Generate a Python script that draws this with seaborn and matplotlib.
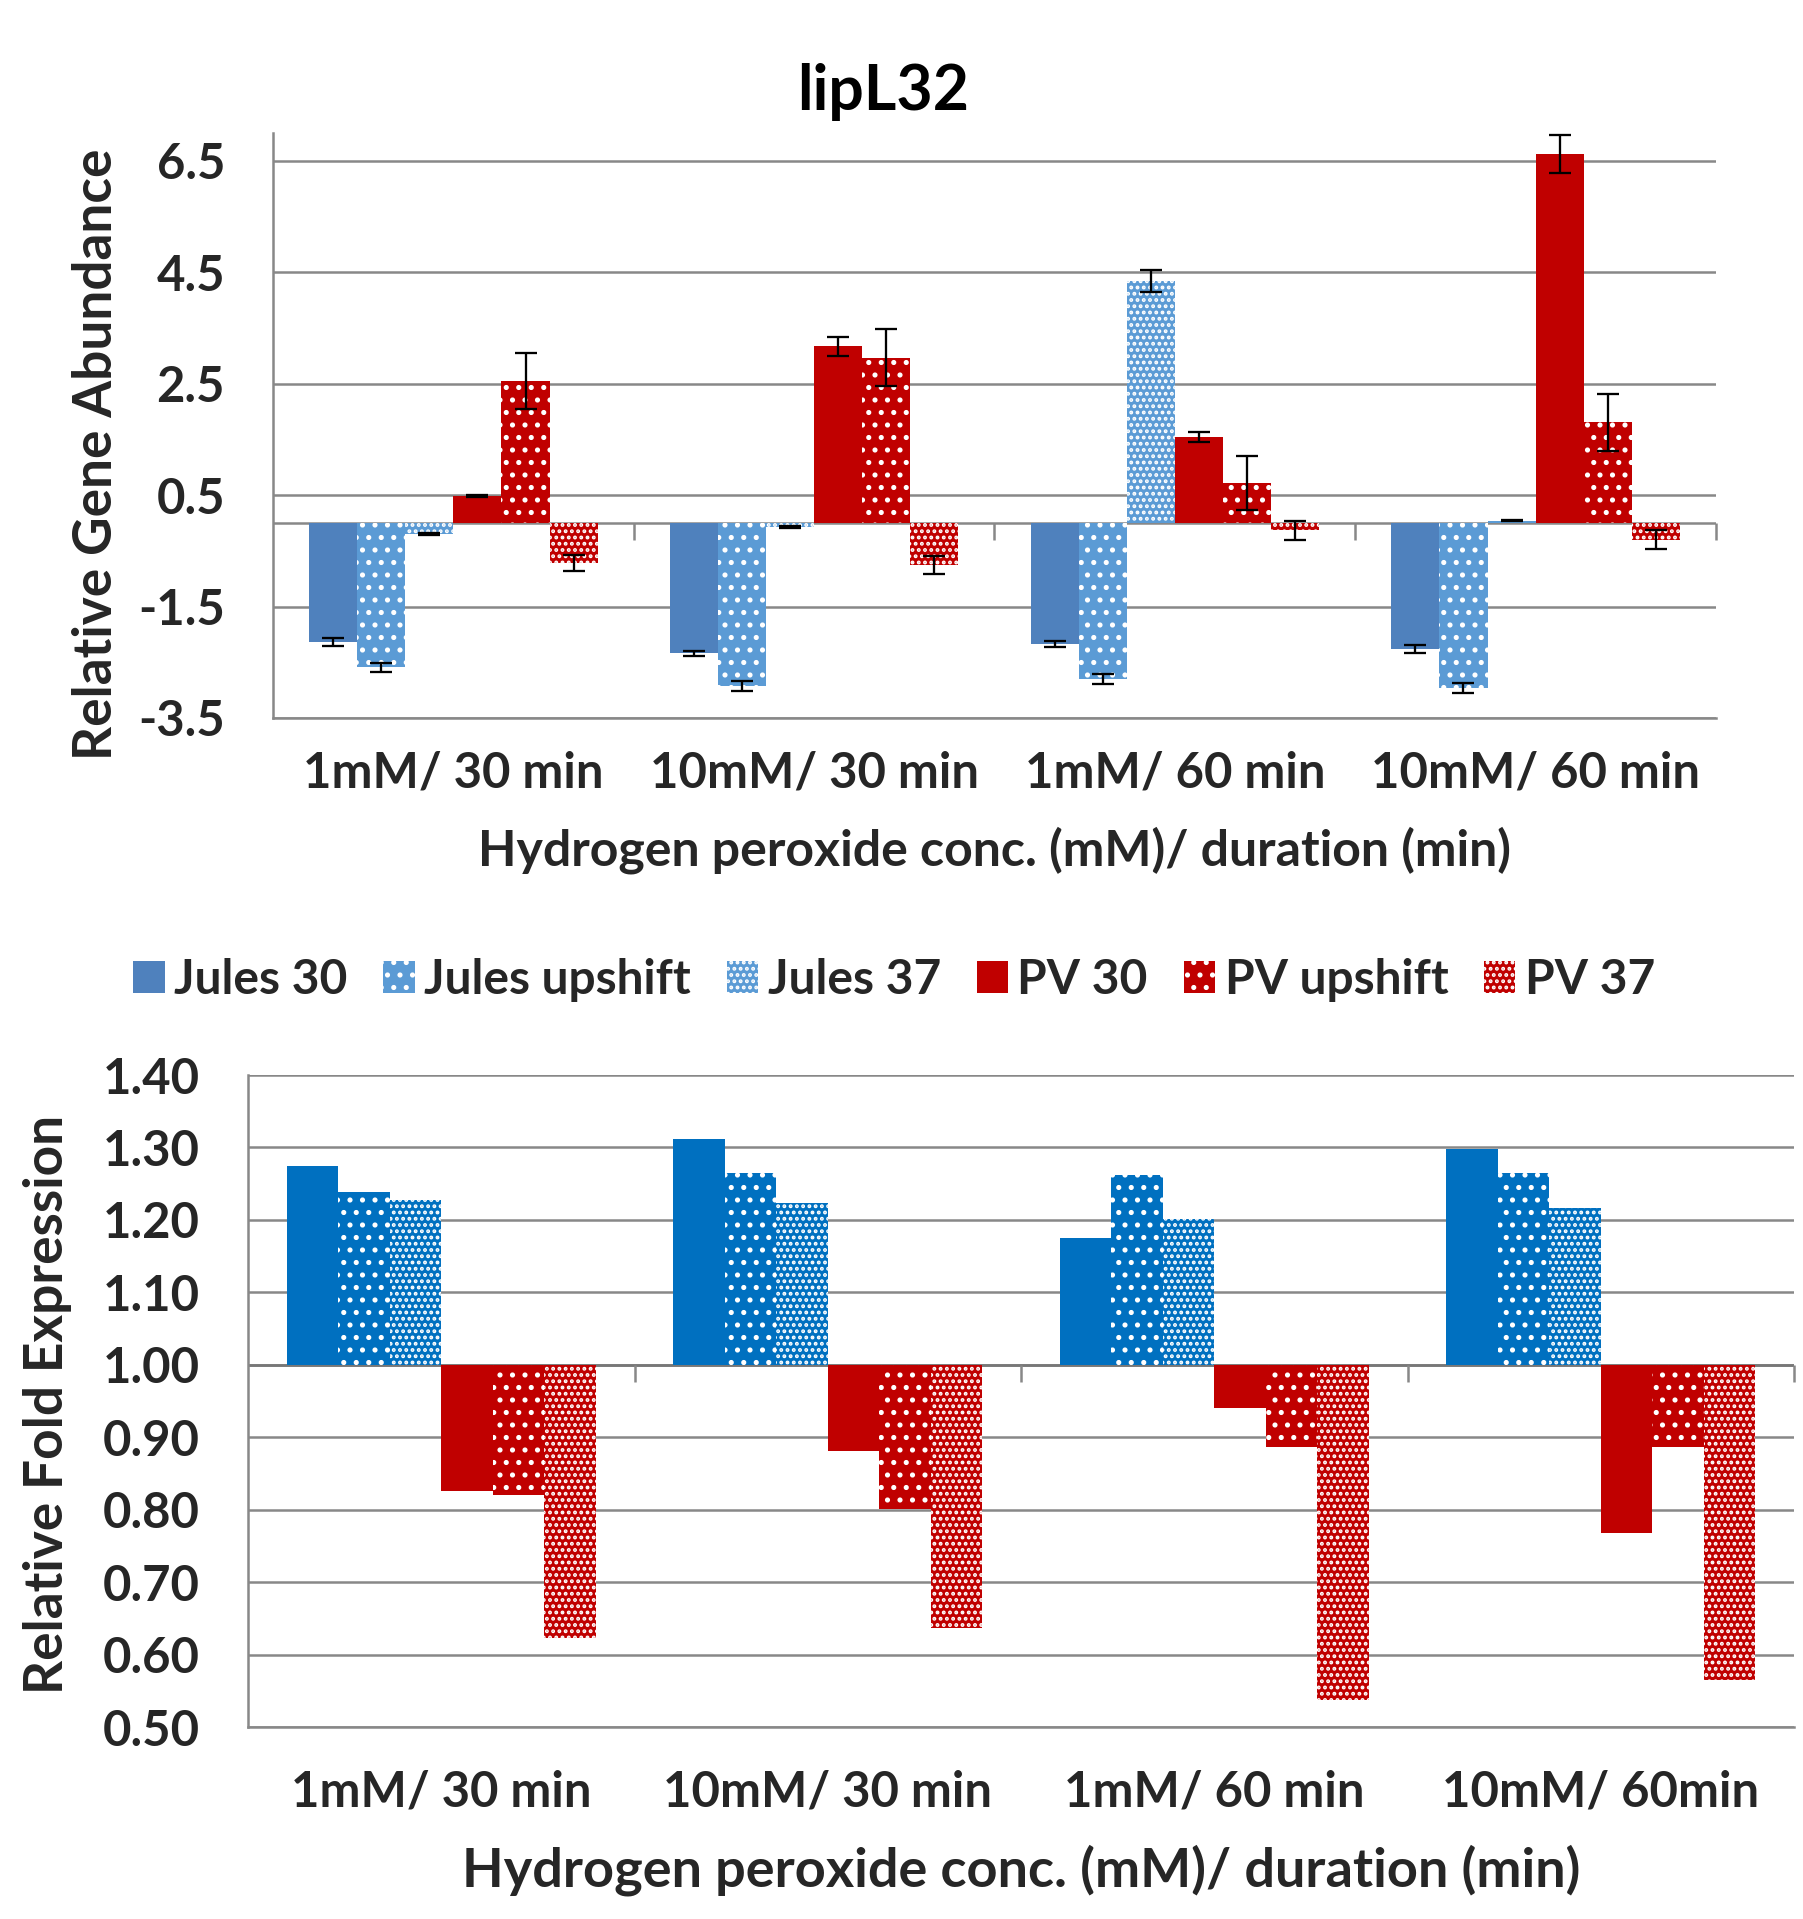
import numpy as np
import pandas as pd
import matplotlib
matplotlib.use("Agg")
import matplotlib.pyplot as plt
import matplotlib.markers as mmarkers
from matplotlib.ticker import FuncFormatter, FixedLocator
import seaborn as sns

# ---------------- data ----------------
series = ["Jules 30", "Jules upshift", "Jules 37", "PV 30", "PV upshift", "PV 37"]
conditions_top = ["1mM/ 30 min", "10mM/ 30 min", "1mM/ 60 min", "10mM/ 60 min"]
conditions_bottom = ["1mM/ 30 min", "10mM/ 30 min", "1mM/ 60 min", "10mM/ 60min"]

# top panel: relative gene abundance (lipL32)
jules30_abund = [-2.13, -2.34, -2.17, -2.26]
jules_up_abund = [-2.59, -2.92, -2.80, -2.96]
jules37_abund = [-0.20, -0.07, 4.35, 0.04]
pv30_abund = [0.48, 3.17, 1.55, 6.63]
pv_up_abund = [2.55, 2.97, 0.72, 1.81]
pv37_abund = [-0.72, -0.76, -0.13, -0.30]

jules30_err = [0.07, 0.045, 0.05, 0.07]
jules_up_err = [0.085, 0.09, 0.085, 0.09]
jules37_err = [0.02, 0.02, 0.20, 0.01]
pv30_err = [0.02, 0.17, 0.09, 0.34]
pv_up_err = [0.50, 0.51, 0.48, 0.51]
pv37_err = [0.14, 0.16, 0.17, 0.17]

# bottom panel: relative fold expression
jules30_fold = [1.275, 1.311, 1.175, 1.298]
jules_up_fold = [1.239, 1.265, 1.262, 1.265]
jules37_fold = [1.227, 1.224, 1.201, 1.217]
pv30_fold = [0.826, 0.881, 0.941, 0.768]
pv_up_fold = [0.820, 0.801, 0.887, 0.887]
pv37_fold = [0.623, 0.637, 0.537, 0.565]
fold_baseline = 1.0

top_ticks = [-3.5, -1.5, 0.5, 2.5, 4.5, 6.5]
bottom_ticks = [0.50, 0.60, 0.70, 0.80, 0.90, 1.00, 1.10, 1.20, 1.30, 1.40]

abund = [jules30_abund, jules_up_abund, jules37_abund, pv30_abund, pv_up_abund, pv37_abund]
errs = [jules30_err, jules_up_err, jules37_err, pv30_err, pv_up_err, pv37_err]
folds = [jules30_fold, jules_up_fold, jules37_fold, pv30_fold, pv_up_fold, pv37_fold]

df_top = pd.DataFrame([
    {"condition": c, "series": s, "value": v}
    for s, vals in zip(series, abund) for c, v in zip(conditions_top, vals)
])
df_bot = pd.DataFrame([
    {"condition": c, "series": s, "offset": v - fold_baseline}
    for s, vals in zip(series, folds) for c, v in zip(conditions_bottom, vals)
])

# ---------------- style ----------------
W, H, DPI = 1803, 1919, 75
sns.set_theme(style="white")
plt.rcParams["font.family"] = ["Lato", "DejaVu Sans"]
plt.rcParams["font.weight"] = "bold"
plt.rcParams["hatch.linewidth"] = 2.5

GRID = "#888888"
FS_TICK = 47
FS_XLAB = 48
FS_XLAB2 = 52
FS_YLAB = 51
FS_LEG = 46
top_colors = ["#4F81BD", "#5B9BD5", "#5B9BD5", "#C00000", "#C00000", "#C00000"]
bot_colors = ["#0070C0", "#0070C0", "#0070C0", "#C00000", "#C00000", "#C00000"]
hatches = [None, ".", "..", None, ".", ".."]

fig = plt.figure(figsize=(W / DPI, H / DPI), dpi=DPI)
ax1 = fig.add_axes([273 / W, 1 - 718 / H, 1443 / W, 585 / H])
ax2 = fig.add_axes([248 / W, 1 - 1727 / H, 1546 / W, 652 / H])


def style_bars(ax, colors):
    for cont, col, hat in zip(ax.containers, colors, hatches):
        for p in cont.patches:
            p.set_facecolor(col)
            p.set_linewidth(0)
            if hat:
                p.set_hatch(hat)
                p.set_edgecolor("white")
            else:
                p.set_edgecolor(col)
            p.set_zorder(2)


def style_axes(ax):
    ax.set_axisbelow(True)
    ax.yaxis.grid(True, color=GRID, lw=2.4)
    ax.xaxis.grid(False)
    for s in ["top", "right"]:
        ax.spines[s].set_visible(False)
    for s in ["left", "bottom"]:
        ax.spines[s].set_color(GRID)
        ax.spines[s].set_linewidth(2.4)
    ax.tick_params(axis="y", direction="out", length=10, width=2.4, color=GRID,
                   pad=36, labelsize=FS_TICK)
    ax.tick_params(axis="x", length=0, labelsize=FS_TICK)
    for lab in ax.get_xticklabels() + ax.get_yticklabels():
        lab.set_fontweight("bold")


# ---------------- top panel ----------------
sns.barplot(data=df_top, x="condition", y="value", hue="series", order=conditions_top,
            hue_order=series, errorbar=None, width=0.8, legend=False, ax=ax1)
style_bars(ax1, top_colors)
for cont, e in zip(ax1.containers, errs):
    xs = [p.get_x() + p.get_width() / 2 for p in cont.patches]
    ys = [p.get_y() + p.get_height() for p in cont.patches]
    ax1.errorbar(xs, ys, yerr=e, fmt="none", ecolor="black", elinewidth=2.2,
                 capsize=11, capthick=2.2, zorder=4)
ax1.set_ylim(top_ticks[0], 7.0)
ax1.yaxis.set_major_locator(FixedLocator(top_ticks))
ax1.yaxis.set_major_formatter(FuncFormatter(lambda v, p: f"{v:.1f}"))
ax1.set_xlim(-0.5, len(conditions_top) - 0.5)
style_axes(ax1)
ax1.tick_params(axis="x", pad=31)
ax1.axhline(0, color=GRID, lw=2.4, zorder=1.5)
bounds = np.arange(len(conditions_top) + 1) - 0.5
ax1.plot(bounds[1:], np.zeros(len(bounds) - 1), ls="none", marker=mmarkers.TICKDOWN,
         ms=16, mew=2.4, color=GRID, zorder=1.5, clip_on=False)
ax1.set_xlabel("Hydrogen peroxide conc. (mM)/ duration (min)", fontsize=FS_XLAB, fontweight="bold")
ax1.set_ylabel("Relative Gene Abundance", fontsize=FS_YLAB, fontweight="bold")
ax1.xaxis.label.set_va("center")
ax1.yaxis.label.set_va("center")
ax1.xaxis.set_label_coords(0.5, -0.2256)
ax1.yaxis.set_label_coords(-0.122, 0.45)

fig.text(883 / W, 1 - 92 / H, "lipL32", ha="center", va="center", fontsize=60,
         fontweight="bold", color="black")

fig.legend(ax1.containers, series, loc="center", bbox_to_anchor=(0.496, 1 - 980 / H),
           ncol=6, frameon=False, fontsize=FS_LEG, handlelength=0.65, handleheight=0.65,
           handletextpad=0.2, columnspacing=0.75, borderaxespad=0)

# ---------------- bottom panel ----------------
sns.barplot(data=df_bot, x="condition", y="offset", hue="series", order=conditions_bottom,
            hue_order=series, errorbar=None, width=0.8, legend=False, ax=ax2)
style_bars(ax2, bot_colors)
ax2.set_ylim(bottom_ticks[0] - fold_baseline, bottom_ticks[-1] - fold_baseline)
ax2.yaxis.set_major_locator(FixedLocator([t - fold_baseline for t in bottom_ticks]))
ax2.yaxis.set_major_formatter(FuncFormatter(lambda v, p: f"{v + fold_baseline:.2f}"))
ax2.set_xlim(-0.5, len(conditions_bottom) - 0.5)
style_axes(ax2)
ax2.tick_params(axis="x", pad=41)
ax2.axhline(0, color="#777777", lw=2.6, zorder=1.5)
ax2.plot(bounds[1:], np.zeros(len(bounds) - 1), ls="none", marker=mmarkers.TICKDOWN,
         ms=16, mew=2.4, color=GRID, zorder=1.5, clip_on=False)
ax2.set_xlabel("Hydrogen peroxide conc. (mM)/ duration (min)", fontsize=FS_XLAB2, fontweight="bold")
ax2.set_ylabel("Relative Fold Expression", fontsize=FS_YLAB, fontweight="bold")
ax2.xaxis.label.set_va("center")
ax2.yaxis.label.set_va("center")
ax2.xaxis.set_label_coords(0.5, -0.219)
ax2.yaxis.set_label_coords(-0.130, 0.495)

fig.savefig("out.png", dpi=DPI, facecolor="white")
